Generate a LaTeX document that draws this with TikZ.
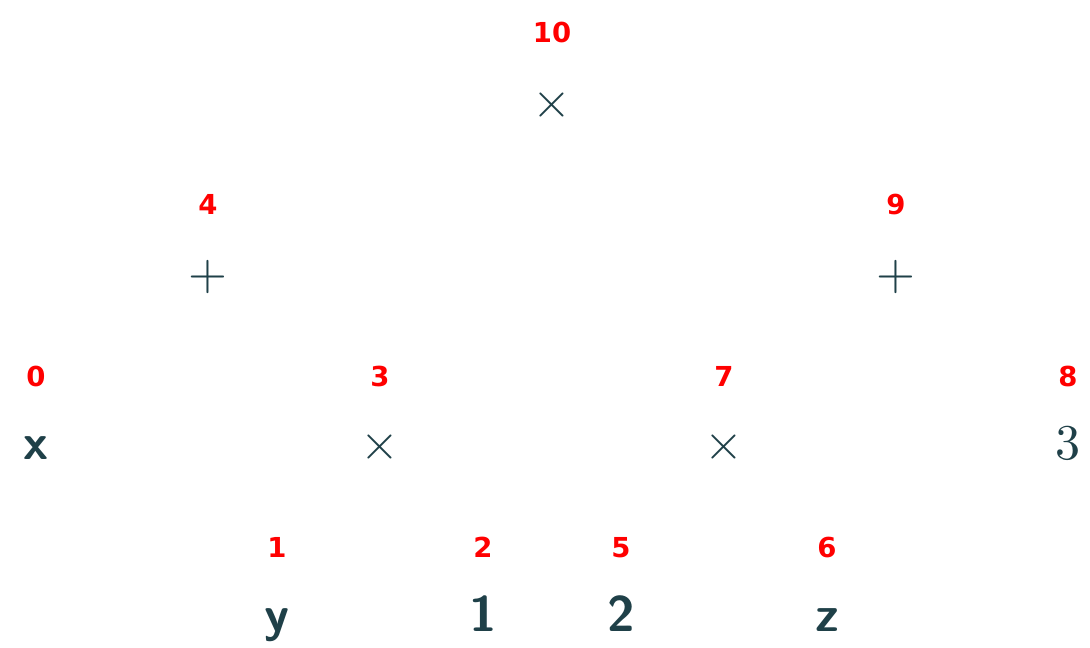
\documentclass[tikz,border=0pt]{standalone}
\font\lblfont="DejaVu Sans/B" at 5.5pt
\definecolor{slate}{RGB}{31,64,72}
\definecolor{lbl}{RGB}{255,0,0}
\begin{document}
\begin{tikzpicture}[x=0.2pt,y=-0.2pt,
  tnode/.style={inner sep=0pt,anchor=base,text=slate,font=\sffamily\bfseries},
  mnode/.style={inner sep=0pt,anchor=base,text=slate},
  idlabel/.style={inner sep=0pt,anchor=base,text=lbl,font=\lblfont}]
\useasboundingbox (0,0) rectangle (1090,648);
% nodes
\node[mnode] (n10) at (552,118) {$\times$};
\node[mnode] (n4) at (208,290) {$+$};
\node[mnode] (n9) at (896,290) {$+$};
\node[tnode] (n0) at (36,460) {x};
\node[mnode] (n3) at (380,460) {$\times$};
\node[mnode] (n7) at (724,460) {$\times$};
\node[mnode] (n8) at (1068,460) {$3$};
\node[tnode] (n1) at (277,632) {y};
\node[tnode] (n2) at (483,632) {1};
\node[tnode] (n5) at (621,632) {2};
\node[tnode] (n6) at (827,632) {z};
% labels
\node[idlabel] (l10) at (552,43) {10};
\node[idlabel] (l4) at (208,215) {4};
\node[idlabel] (l9) at (896,215) {9};
\node[idlabel] (l0) at (36,387) {0};
\node[idlabel] (l3) at (380,387) {3};
\node[idlabel] (l7) at (724,387) {7};
\node[idlabel] (l8) at (1068,387) {8};
\node[idlabel] (l1) at (277,558) {1};
\node[idlabel] (l2) at (483,558) {2};
\node[idlabel] (l5) at (621,558) {5};
\node[idlabel] (l6) at (827,558) {6};
\end{tikzpicture}
\end{document}
